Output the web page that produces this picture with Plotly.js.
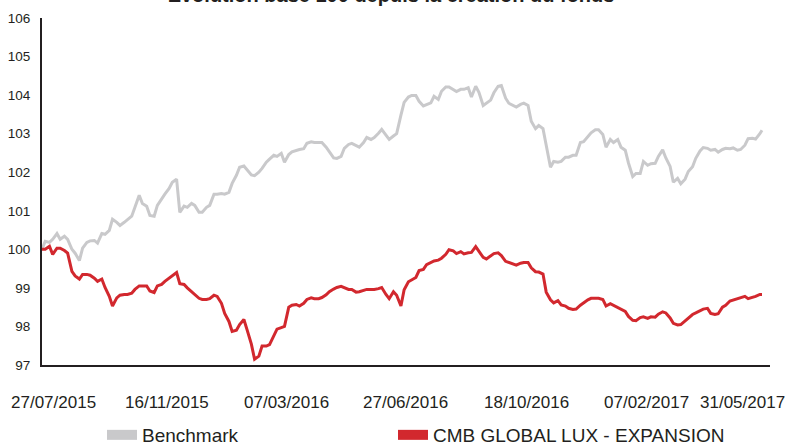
<!DOCTYPE html>
<html>
<head>
<meta charset="utf-8">
<script src="https://cdn.plot.ly/plotly-3.0.1.min.js"></script>
<style>html,body{margin:0;padding:0;background:#fff;}#chart{width:790px;height:445px;}</style>
</head>
<body>
<div id="chart"></div>
<script>
const dates = [
'2015-07-27','2015-07-30','2015-08-03','2015-08-06','2015-08-10','2015-08-13','2015-08-17','2015-08-20','2015-08-24','2015-08-27',
'2015-08-31','2015-09-03','2015-09-07','2015-09-10','2015-09-14','2015-09-17','2015-09-21','2015-09-24','2015-09-28','2015-10-01',
'2015-10-05','2015-10-08','2015-10-12','2015-10-15','2015-10-19','2015-10-22','2015-10-26','2015-10-29','2015-11-02','2015-11-05',
'2015-11-09','2015-11-12','2015-11-16','2015-11-19','2015-11-23','2015-11-26','2015-11-30','2015-12-03','2015-12-07','2015-12-10',
'2015-12-14','2015-12-17','2015-12-21','2015-12-24','2015-12-28','2015-12-31','2016-01-04','2016-01-07','2016-01-11','2016-01-14',
'2016-01-18','2016-01-21','2016-01-25','2016-01-28','2016-02-01','2016-02-04','2016-02-08','2016-02-11','2016-02-15','2016-02-18',
'2016-02-22','2016-02-25','2016-02-29','2016-03-03','2016-03-07','2016-03-10','2016-03-14','2016-03-17','2016-03-21','2016-03-24',
'2016-03-28','2016-03-31','2016-04-04','2016-04-07','2016-04-11','2016-04-14','2016-04-18','2016-04-21','2016-04-25','2016-04-28',
'2016-05-02','2016-05-05','2016-05-09','2016-05-12','2016-05-16','2016-05-19','2016-05-23','2016-05-26','2016-05-30','2016-06-02',
'2016-06-06','2016-06-09','2016-06-13','2016-06-16','2016-06-20','2016-06-23','2016-06-27','2016-06-30','2016-07-04','2016-07-07',
'2016-07-11','2016-07-14','2016-07-18','2016-07-21','2016-07-25','2016-07-28','2016-08-01','2016-08-04','2016-08-08','2016-08-11',
'2016-08-15','2016-08-18','2016-08-22','2016-08-25','2016-08-29','2016-09-01','2016-09-05','2016-09-08','2016-09-12','2016-09-15',
'2016-09-19','2016-09-22','2016-09-26','2016-09-29','2016-10-03','2016-10-06','2016-10-10','2016-10-13','2016-10-17','2016-10-20',
'2016-10-24','2016-10-27','2016-10-31','2016-11-03','2016-11-07','2016-11-10','2016-11-14','2016-11-17','2016-11-21','2016-11-24',
'2016-11-28','2016-12-01','2016-12-05','2016-12-08','2016-12-12','2016-12-15','2016-12-19','2016-12-22','2016-12-26','2016-12-29',
'2017-01-02','2017-01-05','2017-01-09','2017-01-12','2017-01-16','2017-01-19','2017-01-23','2017-01-26','2017-01-30','2017-02-02',
'2017-02-06','2017-02-09','2017-02-13','2017-02-16','2017-02-20','2017-02-23','2017-02-27','2017-03-02','2017-03-06','2017-03-09',
'2017-03-13','2017-03-16','2017-03-20','2017-03-23','2017-03-27','2017-03-30','2017-04-03','2017-04-06','2017-04-10','2017-04-13',
'2017-04-17','2017-04-20','2017-04-24','2017-04-27','2017-05-01','2017-05-04','2017-05-08','2017-05-11','2017-05-15','2017-05-18',
'2017-05-22','2017-05-25','2017-05-29','2017-05-31'
];

const benchmark = [
100.00,100.21, 100.18,100.26, 100.41,100.26, 100.34,100.26, 100.00,99.90,
99.71,100.03, 100.18,100.22, 100.23,100.16, 100.41,100.39, 100.49,100.78,
100.70,100.62, 100.70,100.78, 100.86,101.09, 101.40,101.19, 101.12,100.88,
100.86,101.14, 101.32,101.43, 101.58,101.74, 101.82,100.96, 101.12,101.09,
101.19,101.14, 100.96,100.96, 101.09,101.14, 101.43,101.43, 101.45,101.43,
101.48,101.71, 101.92,102.13, 102.16,102.07, 101.93,101.91, 102.00,102.10,
102.26,102.34, 102.44,102.41, 102.49,102.26, 102.46,102.53, 102.57,102.59,
102.61,102.75, 102.79,102.77, 102.77,102.77, 102.65,102.52, 102.37,102.36,
102.41,102.62, 102.72,102.75, 102.70,102.65, 102.77,102.90, 102.85,102.90,
103.01,103.11, 102.96,102.85, 102.94,103.00, 103.48,103.81, 103.95,103.99,
103.99,103.84, 103.72,103.76, 103.80,103.97, 103.89,104.10, 104.21,104.21,
104.15,104.09, 104.15,104.15, 104.19,103.95, 104.23,104.07, 103.73,103.79,
103.87,104.06, 104.23,104.25, 103.92,103.79, 103.72,103.69, 103.76,103.79,
103.73,103.32, 103.13,103.21, 103.13,102.67, 102.13,102.28, 102.26,102.28,
102.39,102.39, 102.44,102.44, 102.77,102.79, 102.94,103.02, 103.10,103.10,
102.98,102.65, 102.85,102.77, 102.85,102.65, 102.57,102.24, 101.89,101.97,
101.97,102.28, 102.18,102.22, 102.23,102.41, 102.58,102.37, 102.15,101.74,
101.84,101.70, 101.82,102.02, 102.14,102.36, 102.55,102.64, 102.62,102.57,
102.59,102.52, 102.59,102.62, 102.61,102.63, 102.57,102.59, 102.70,102.87,
102.88,102.86, 103.00,103.09
];

const fund = [
100.00,100.00, 100.08,99.87, 100.03,100.03, 99.97,99.90, 99.43,99.31,
99.23,99.35, 99.35,99.33, 99.25,99.17, 99.23,99.01, 98.78,98.53,
98.74,98.81, 98.83,98.83, 98.86,98.96, 99.05,99.05, 99.05,98.92,
98.88,99.05, 99.09,99.17, 99.26,99.32, 99.40,99.11, 99.09,99.00,
98.91,98.84, 98.73,98.70, 98.70,98.72, 98.81,98.78, 98.60,98.34,
98.13,97.87, 97.90,98.05, 98.18,97.91, 97.54,97.15, 97.23,97.49,
97.49,97.53, 97.74,97.93, 97.97,98.00, 98.50,98.55, 98.57,98.53,
98.60,98.70, 98.74,98.72, 98.72,98.75, 98.82,98.90, 98.97,99.01,
99.04,99.00, 98.96,98.96, 98.89,98.90, 98.94,98.96, 98.96,98.96,
98.98,99.01, 98.83,98.72, 98.90,98.81, 98.53,98.95, 99.16,99.21,
99.27,99.45, 99.48,99.60, 99.66,99.70, 99.72,99.77, 99.87,99.99,
99.96,99.89, 99.94,99.88, 99.91,99.92, 100.07,99.96, 99.79,99.75,
99.84,99.89, 99.91,99.84, 99.69,99.66, 99.62,99.59, 99.64,99.66,
99.66,99.52, 99.42,99.41, 99.36,98.89, 98.69,98.61, 98.67,98.56,
98.53,98.47, 98.44,98.45, 98.55,98.62, 98.69,98.73, 98.72,98.73,
98.70,98.53, 98.59,98.55, 98.48,98.45, 98.39,98.26, 98.16,98.15,
98.23,98.25, 98.21,98.25, 98.24,98.32, 98.38,98.35, 98.22,98.08,
98.04,98.05, 98.14,98.20, 98.31,98.35, 98.40,98.45, 98.47,98.34,
98.31,98.33, 98.50,98.55, 98.66,98.69, 98.72,98.76, 98.78,98.72,
98.75,98.78, 98.83,98.83
];

const seriesNames = ['Benchmark', 'CMB GLOBAL LUX - EXPANSION'];
const tickDates = ['2015-07-27','2015-11-16','2016-03-07','2016-06-27','2016-10-18','2017-02-07','2017-05-31'];
const tickLabels = ['27/07/2015','16/11/2015','07/03/2016','27/06/2016','18/10/2016','07/02/2017','31/05/2017'];
const yTicks = [97, 98, 99, 100, 101, 102, 103, 104, 105, 106];
const chartTitle = 'Evolution base 100 depuis la création du fonds';

const GREY = '#c9c9cb';
const RED = '#d2282e';
const FONT = 'Liberation Sans, Arial, Helvetica, sans-serif';
const INK = '#231f20';

// Date labels under the axis: the end labels are pulled inside the picture, as in the original
const last = tickLabels.length - 1;
const dateLabels = tickLabels.map((t, i) => ({
  text: t, x: tickDates[i], xref: 'x', y: 0, yref: 'paper',
  xanchor: i === 0 ? 'left' : (i === last ? 'right' : 'center'),
  xshift: i === 0 ? -33 : (i === last ? 25 : 5),
  yanchor: 'middle', yshift: -37, showarrow: false,
  font: {family: FONT, size: 17, color: INK}
}));

const traces = [
  {x: dates, y: benchmark, type: 'scatter', mode: 'lines', name: seriesNames[0], showlegend: false,
   line: {color: GREY, width: 3}},
  {x: dates, y: fund, type: 'scatter', mode: 'lines', name: seriesNames[1], showlegend: false,
   line: {color: RED, width: 3}},
  {x: [null], y: [null], type: 'scatter', mode: 'lines', name: seriesNames[0], legend: 'legend',
   line: {color: GREY, width: 10}},
  {x: [null], y: [null], type: 'scatter', mode: 'lines', name: seriesNames[1], legend: 'legend2',
   line: {color: RED, width: 10}}
];

const legendStyle = (xpx) => ({
  orientation: 'h', xref: 'container', x: xpx / 790, xanchor: 'left',
  yref: 'container', y: 1 - 435 / 445, yanchor: 'middle',
  font: {family: FONT, size: 19, color: INK},
  bgcolor: 'rgba(0,0,0,0)', borderwidth: 0, itemwidth: 30
});

const layout = {
  width: 790, height: 445,
  margin: {l: 42, r: 20, t: 18, b: 80},
  paper_bgcolor: '#ffffff', plot_bgcolor: '#ffffff',
  font: {family: FONT, color: INK},
  title: {
    text: chartTitle, xref: 'container', x: 0.495, xanchor: 'center',
    yref: 'paper', y: 1, yanchor: 'bottom', pad: {b: 16},
    font: {family: FONT, size: 20, weight: 'bold', color: INK}
  },
  xaxis: {
    type: 'date', range: ['2015-07-27', '2017-06-07 12:00'],
    showgrid: false, zeroline: false,
    showline: true, linecolor: INK, linewidth: 2,
    ticks: '', showticklabels: false
  },
  yaxis: {
    range: [97, 106], tickvals: yTicks,
    showgrid: false, zeroline: false,
    showline: true, linecolor: INK, linewidth: 2,
    ticks: '', tickfont: {family: FONT, size: 13.5, color: INK},
    ticklabelstandoff: 7
  },
  annotations: dateLabels,
  showlegend: true,
  legend: legendStyle(102),
  legend2: legendStyle(393)
};

Plotly.newPlot('chart', traces, layout, {staticPlot: true, displayModeBar: false});
</script>
</body>
</html>
